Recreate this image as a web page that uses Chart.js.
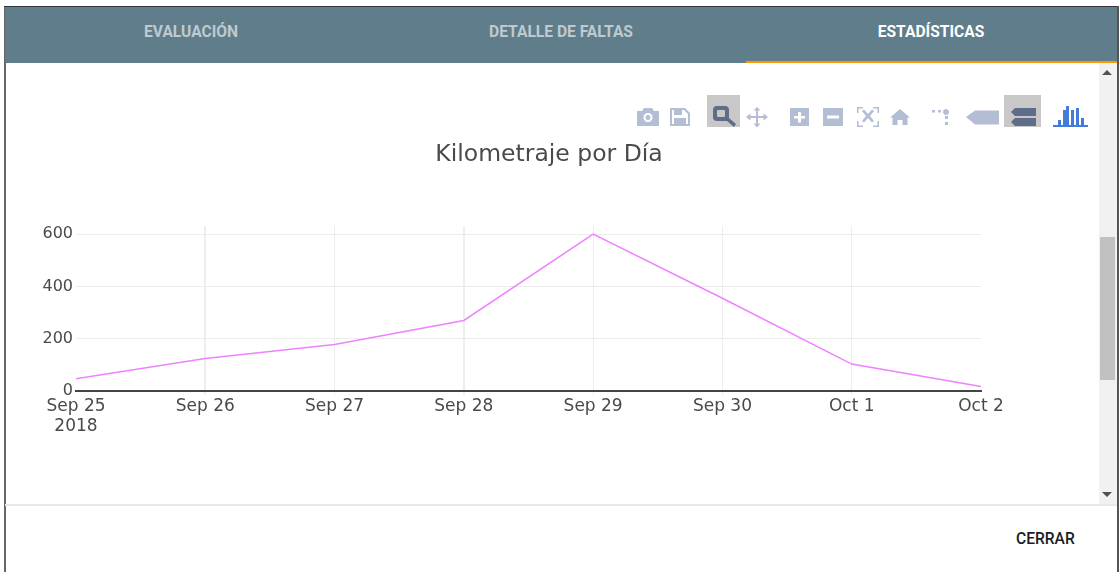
<!DOCTYPE html>
<html lang="es"><head><meta charset="utf-8">
<style>
html,body{margin:0;padding:0;background:#fff;width:1119px;height:572px;overflow:hidden}
#page{position:absolute;left:0;top:0;width:1119px;height:572px;overflow:hidden}
#modal{position:absolute;left:5px;top:7px;width:1112px;height:565px;background:#fff}
.edge{position:absolute;background:#2f3538}
#hdr{position:absolute;left:5px;top:7px;width:1112px;height:56px;background:#607d8b}
#ul{position:absolute;left:746px;top:61px;width:371px;height:2px;background:#ff9800}
.tab{position:absolute;top:23px;height:18px;font:700 15.6px/18px Roboto,sans-serif;color:rgba(255,255,255,.6);transform:translateX(-50%);white-space:nowrap}
#sb{position:absolute;left:1099px;top:63px;width:18px;height:442px;background:#f1f1f1}
#th{position:absolute;left:1100px;top:237px;width:15px;height:143px;background:#c1c1c1}
#foot{position:absolute;left:5px;top:504px;width:1112px;height:2px;background:#e8e8e8}
#close{position:absolute;left:1016px;top:530px;font:500 15.6px/18px Roboto,sans-serif;color:#1c1c1c}
canvas{position:absolute;left:0;top:0}
#icons{position:absolute;left:0;top:0}
</style></head><body>
<div id="page">
<div id="modal"></div>
<div class="edge" style="left:4px;top:6px;width:2px;height:566px;background:#666"></div>
<div class="edge" style="left:4px;top:6px;width:1114px;height:1px"></div>
<div class="edge" style="left:1117px;top:6px;width:2px;height:566px;background:#555"></div>
<div id="hdr"></div><div id="ul"></div>
<div class="tab" style="left:191px">EVALUACIÓN</div>
<div class="tab" style="left:561px">DETALLE DE FALTAS</div>
<div class="tab" style="left:931px;color:#fff">ESTADÍSTICAS</div>
<div id="sb"></div><div id="th"></div>
<div id="foot"></div>
<div id="close">CERRAR</div>
<canvas id="c" width="1098" height="572" style="width:1098px;height:572px"></canvas>
<svg id="icons" width="1119" height="572" viewBox="0 0 1119 572">
 <path d="M1102 75l5-5 5 5z M1102 492l5 5 5-5z" fill="#505050"/>
 <g fill="#b3bdd4">
  <path fill-rule="evenodd" d="M637 111h5l2-3h8l2 3h5v15h-22z M648 113a4.500 4.500 0 1 0 .01 0z M648 115a2.500 2.500 0 1 1-.01 0z"/>
  <path fill-rule="evenodd" d="M670 108h15l5 5v13h-20z M672 110v14h16v-10l-4-4z M674 110h8v5h-8z M674 118h12v6h-12z"/>
  <rect x="707" y="95" width="33" height="32" fill="#c8c8c8"/>
  <path fill-rule="evenodd" fill="#5f6d8a" d="M717 106h8a4 4 0 0 1 4 4v8l7 6-2 3-7-6h-10a4 4 0 0 1-4-4v-7a4 4 0 0 1 4-4z M718 110a1 1 0 0 0-1 1v5a1 1 0 0 0 1 1h6a1 1 0 0 0 1-1v-5a1 1 0 0 0-1-1z"/>
  <path d="M757 107l3.500 3.500h-2.500v5.500h5.500v-2.500l4.500 3.500-4.500 3.500v-2.500h-5.500v5.500h2.500l-3.500 4-3.500-4h2.500v-5.500h-5.500v2.500l-4.500-3.500 4.500-3.500v2.500h5.500v-5.500h-2.500z"/>
  <path fill-rule="evenodd" d="M790 108h19v18h-19z M798 112v4h-4v2.500h4v4h3v-4h4v-2.500h-4v-4z"/>
  <path fill-rule="evenodd" d="M823 108h20v18h-20z M827 115.500v3h12v-3z"/>
  <path d="M857 107h6v1.500h-4.500v4.500h-1.500z M873 107h6v6h-1.500v-4.500h-4.500z M857 121h1.500v4.500h4.500v1.500h-6z M877.500 121h1.500v6h-6v-1.500h4.500z M862 111l2-1.500 4 4.500 4-4.500 2 1.500-4 5 4 5-2 1.500-4-4.500-4 4.500-2-1.500 4-5z"/>
  <path d="M900 109l10 8.500h-2.500v7.500h-5v-5h-5v5h-5v-7.500h-2.500z"/>
  <path d="M932 110h3v2.500h-3z M938 110h3v2.500h-3z M946 109a3 3 0 1 1-.01 0z M945 116h3v3h-3z M945 122h3v3h-3z"/>
  <path d="M966 117l9-6.500h24v14h-24z"/>
  <rect x="1004" y="95" width="37" height="32" fill="#c8c8c8"/>
  <path fill="#5f6d8a" d="M1011 112l4-4h21v8h-21z M1011 122l4-4h21v8h-21z" />
  <path fill="#447adb" d="M1053 125h35v2h-35z M1058 120h3v5h-3z M1063 110h3v15h-3z M1066 106h3v19h-3z M1071 110h3v15h-3z M1076 108h3v17h-3z M1081 118h3v7h-3z"/>
 </g>
</svg>
</div>
<script src="https://cdn.jsdelivr.net/npm/chart.js@4/dist/chart.umd.min.js"></script>
<script>
const categories = ["Sep 25","Sep 26","Sep 27","Sep 28","Sep 29","Sep 30","Oct 1","Oct 2"];
const yearLabel = "2018";
const kilometraje = [47,124,178,270,601,355,103,17];
const yTicks = [0,200,400,600];
const chartTitle = "Kilometraje por Día";
const fontFamily = "'DejaVu Sans',Verdana,sans-serif";
const tickColor = "#4a4a4a";

new Chart(document.getElementById('c'),{
  type:'line',
  data:{labels:categories,datasets:[{data:kilometraje,yAxisID:'y',borderColor:'#ee82ff',borderWidth:1.5,pointRadius:0,tension:0,fill:false}]},
  options:{
    responsive:false,animation:false,
    layout:{padding:0},
    plugins:{
      legend:{display:false},tooltip:{enabled:false},
      title:{display:true,text:chartTitle,color:'#4a4a4a',align:'center',
        font:{family:fontFamily,size:23.5,weight:'normal'},
        padding:{top:141,bottom:57}}
    },
    scales:{
      x:{
        type:'category',offset:false,
        afterFit(s){s.height=181},
        grid:{
          color:c=>(c.index===0||c.index===7)?'rgba(0,0,0,0)':'#eeeeee',
          lineWidth:c=>(c.index===1||c.index===3)?2:1,
          tickLength:4,
          tickColor:c=>(c.index===0||c.index===7)?'rgba(0,0,0,0)':'#eeeeee'
        },
        border:{display:true,color:'#444',width:2},
        ticks:{font:{family:fontFamily,size:17},color:tickColor,maxRotation:0,autoSkip:false,padding:1,
          callback(v,i){return i===0?[categories[i],yearLabel]:categories[i]}}
      },
      y:{
        min:0,max:631,
        afterFit(s){s.width=76},
        afterBuildTicks(s){s.ticks=yTicks.map(v=>({value:v}))},
        grid:{color:'#ececec',lineWidth:1,drawTicks:false},
        border:{display:false},
        ticks:{font:{family:fontFamily,size:16},color:tickColor,padding:3}
      },
      spacer:{
        position:'right',display:true,
        afterFit(s){s.width=117},
        grid:{display:false},border:{display:false},ticks:{display:false}
      }
    }
  }
});
</script>
</body></html>
